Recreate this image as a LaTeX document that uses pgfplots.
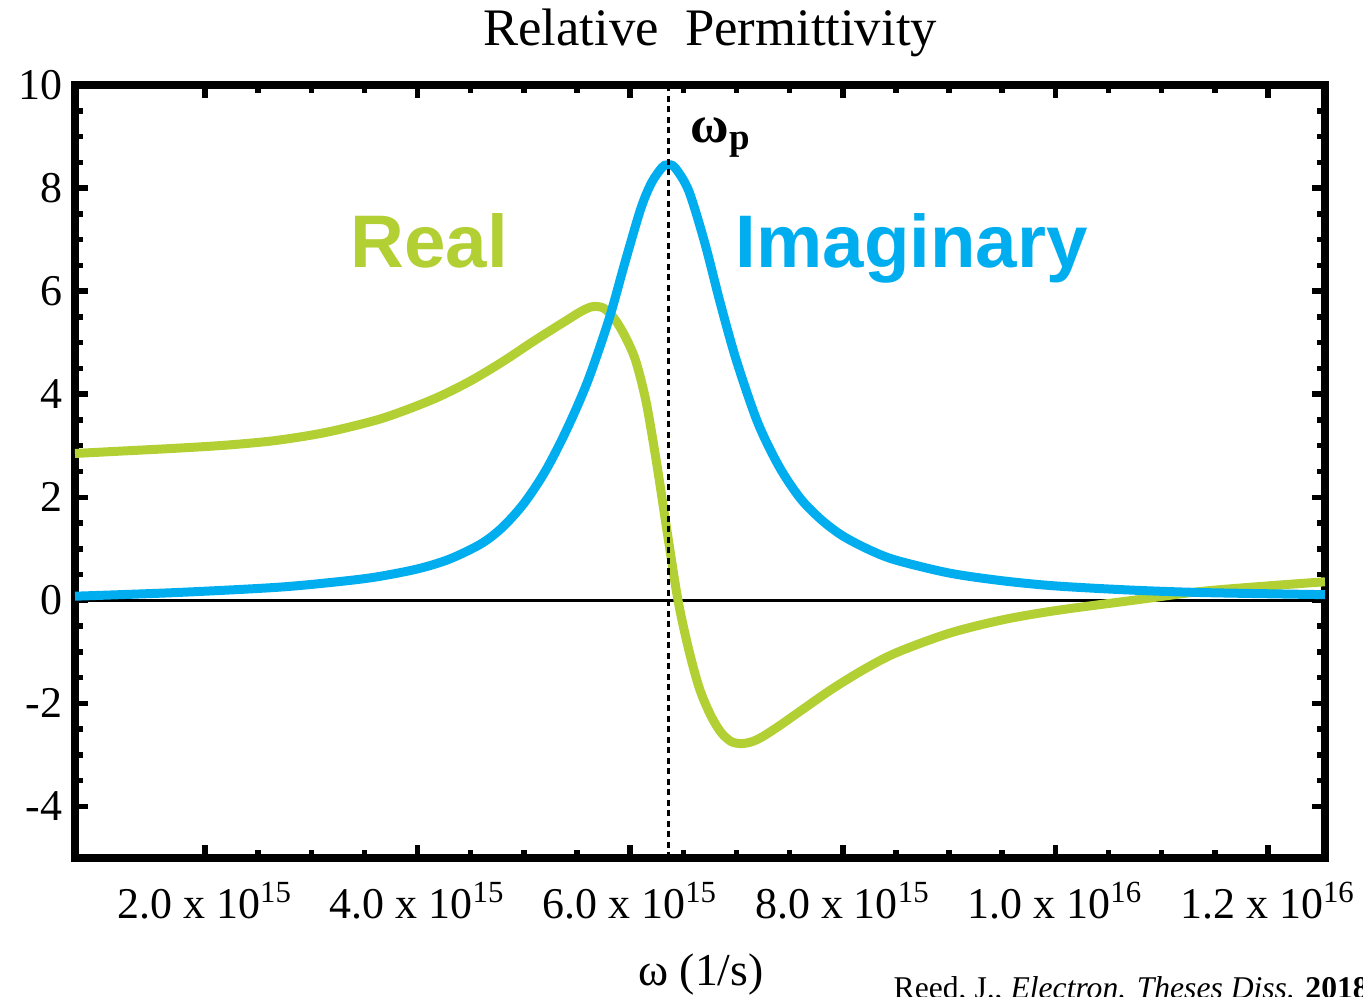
\documentclass[border=0pt]{standalone}
\usepackage{fontspec}
\setmainfont{Liberation Serif}
\newfontfamily\arialfont{Liberation Sans}
\usepackage{pgfplots}
\pgfplotsset{compat=1.18}
\definecolor{realgreen}{RGB}{178,208,52}
\definecolor{imagblue}{RGB}{0,174,239}
\begin{document}
\begin{tikzpicture}
\begin{axis}[
  scale only axis,
  width=125mm, height=77.3mm,
  xmin=0.777, xmax=12.537,
  ymin=-5, ymax=10,
  xtick={2,4,6,8,10,12},
  xticklabels={2.0 x 10\textsuperscript{15},4.0 x 10\textsuperscript{15},6.0 x 10\textsuperscript{15},8.0 x 10\textsuperscript{15},1.0 x 10\textsuperscript{16},1.2 x 10\textsuperscript{16}},
  ytick={-4,-2,0,2,4,6,8,10},
  yticklabels={-4,-2,0,2,4,6,8,10},
  minor x tick num=3,
  minor y tick num=3,
  tick align=inside,
  major tick length=1.3mm,
  minor tick length=0.8mm,
  every tick/.style={black, line width=0.55mm},
  axis line style={line width=0.8mm},
  ticklabel style={font=\fontsize{12.5}{14}\selectfont},
  xticklabel style={yshift=-1.2mm},
  clip=true,
]
\addplot[black, line width=0.3mm] coordinates {(0.777,0) (12.537,0)};
% Real part
\addplot[realgreen, line width=0.9mm, smooth] coordinates {
(0.777,2.85) (1.25,2.90) (1.718,2.95) (2.19,3.01) (2.659,3.10) (3.129,3.255)
(3.6,3.49) (3.9,3.70) (4.2,3.95) (4.5,4.26) (4.8,4.63) (5.1,5.04)
(5.4,5.43) (5.55,5.62) (5.65,5.70) (5.75,5.67) (5.85,5.47) (5.95,5.13)
(6.05,4.66) (6.15,3.85) (6.25,2.65) (6.35,1.3) (6.45,0.0) (6.55,-0.95)
(6.65,-1.7) (6.75,-2.2) (6.85,-2.55) (6.95,-2.74) (7.05,-2.78) (7.15,-2.74)
(7.25,-2.64) (7.4,-2.44) (7.6,-2.15) (7.9,-1.72) (8.2,-1.34) (8.5,-1.02)
(9.0,-0.64) (9.5,-0.38) (10.0,-0.2) (10.73,0.0) (11.36,0.17) (12.0,0.28) (12.537,0.36)
};
% Imaginary part
\addplot[imagblue, line width=0.9mm, smooth] coordinates {
(0.777,0.08) (1.718,0.15) (2.659,0.25) (3.2,0.35) (3.6,0.45) (4.0,0.61)
(4.3,0.80) (4.6,1.10) (4.8,1.42) (5.0,1.88) (5.2,2.5) (5.4,3.3)
(5.6,4.25) (5.8,5.45) (5.95,6.55) (6.1,7.6) (6.2,8.1) (6.3,8.4)
(6.35,8.45) (6.42,8.4) (6.55,7.95) (6.7,6.95) (6.85,5.75) (7.0,4.65)
(7.2,3.45) (7.4,2.6) (7.6,1.98) (7.8,1.56) (8.0,1.25) (8.25,0.98)
(8.5,0.78) (9.0,0.53) (9.5,0.38) (10.0,0.28) (10.7,0.2) (11.4,0.15) (12.537,0.11)
};
\draw[black, line width=0.3mm, dash pattern=on 0.6mm off 0.45mm] (axis cs:6.365,-5) -- (axis cs:6.365,10);
\node[anchor=base west, inner sep=0, text=realgreen, font=\arialfont\bfseries\fontsize{21.2}{24}\selectfont] at (axis cs:3.364,6.45) {Real};
\node[anchor=base west, inner sep=0, text=imagblue, font=\arialfont\bfseries\fontsize{21.2}{24}\selectfont] at (axis cs:6.986,6.45) {Imaginary};
\node[anchor=base west, inner sep=0, font=\bfseries\fontsize{15}{17}\selectfont] at (axis cs:6.563,8.89) {ω\textsubscript{p}};
\end{axis}
\node[anchor=base, inner sep=0, font=\fontsize{15}{17}\selectfont] at ([shift={(63.5mm,81.2mm)}]current axis.south west) {Relative\ \ Permittivity};
\node[anchor=base, inner sep=0, font=\fontsize{13}{15}\selectfont] at ([shift={(62.6mm,-12.7mm)}]current axis.south west) {ω (1/s)};
\node[anchor=base west, inner sep=0, font=\fontsize{9}{11}\selectfont] at ([shift={(81.8mm,-14.0mm)}]current axis.south west) {Reed, J., \textit{Electron. Theses Diss.} \textbf{2018}};
\pgfresetboundingbox
\path (current axis.south west) ++(-7.5mm,-13.8mm) rectangle ++(136.3mm,99.6mm);
\end{tikzpicture}
\end{document}
